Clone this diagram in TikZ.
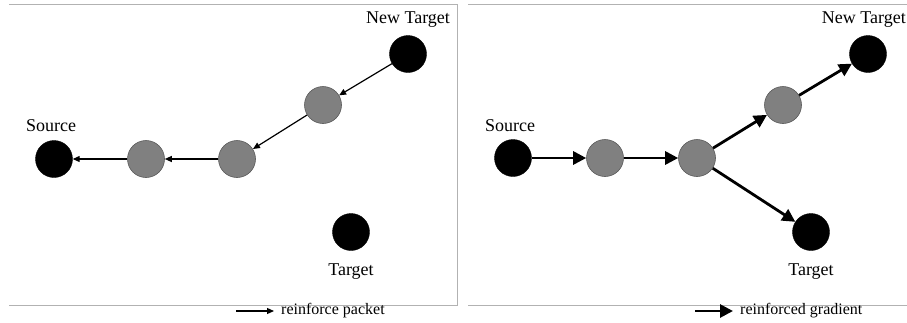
\documentclass[tikz,border=0pt]{standalone}
\usepackage{fontspec}
\setmainfont{Liberation Serif}
\usetikzlibrary{arrows.meta}
\begin{document}
\begin{tikzpicture}[x=1pt,y=-1pt,
  blk/.style={circle,fill=black,draw=black,minimum size=37pt,inner sep=0pt},
  gry/.style={circle,fill=gray!100,draw=black!65,line width=0.6pt,minimum size=37pt,inner sep=0pt},
  lbl/.style={font=\fontsize{18}{20}\selectfont,inner sep=0pt},
  leg/.style={font=\fontsize{16}{18}\selectfont,inner sep=0pt,anchor=west},
  thin/.style={line width=1.2pt,-{Triangle[length=7pt,width=6pt]}},
  thick/.style={line width=2.8pt,-{Triangle[length=13pt,width=13pt]}},
  frame/.style={draw=black!30,line width=0.8pt}]
\useasboundingbox (0,0) rectangle (907,322);
% frames
\draw[frame] (9,4.5) -- (457,4.5) -- (457,305.5) -- (9,305.5);
\draw[frame] (468,4.5) -- (907,4.5);
\draw[frame] (468,305.5) -- (907,305.5);
% left panel
\node[blk] (lnt) at (408,54) {};
\node[gry] (lg1) at (323,105) {};
\node[gry] (lg2) at (237,159) {};
\node[gry] (lg3) at (146,159) {};
\node[blk] (lsrc) at (54,159) {};
\node[blk] (ltg) at (351,232) {};
\node[lbl] (lntl) at (408,20) {New Target};
\node[lbl] (lsrcl) at (51,126) {Source};
\node[lbl] (ltgl) at (351,272) {Target};
\draw[thin] (lnt) -- (lg1);
\draw[thin] (lg1) -- (lg2);
\draw[thin] (lg2) -- (lg3);
\draw[thin] (lg3) -- (lsrc);
\coordinate (la1) at (236,311);
\coordinate (la2) at (274,311);
\draw[thin] (la1) -- (la2);
\node[leg] (llt) at (281,311) {reinforce packet};
% right panel
\node[blk] (rsrc) at (513,158) {};
\node[gry] (rg1) at (605,158) {};
\node[gry] (rg2) at (697,158) {};
\node[gry] (rg3) at (783,105) {};
\node[blk] (rnt) at (868,54) {};
\node[blk] (rtg) at (811,232) {};
\node[lbl,anchor=east] (rntl) at (906,20) {New Target};
\node[lbl] (rsrcl) at (510,126) {Source};
\node[lbl] (rtgl) at (811,272) {Target};
\draw[thick] (rsrc) -- (rg1);
\draw[thick] (rg1) -- (rg2);
\draw[thick] (rg2) -- (rg3);
\draw[thick] (rg3) -- (rnt);
\draw[thick] (rg2) -- (rtg);
\coordinate (ra1) at (695,311);
\coordinate (ra2) at (733,311);
\draw[thick] (ra1) -- (ra2);
\node[leg] (rlt) at (740,311) {reinforced gradient};
\end{tikzpicture}
\end{document}
